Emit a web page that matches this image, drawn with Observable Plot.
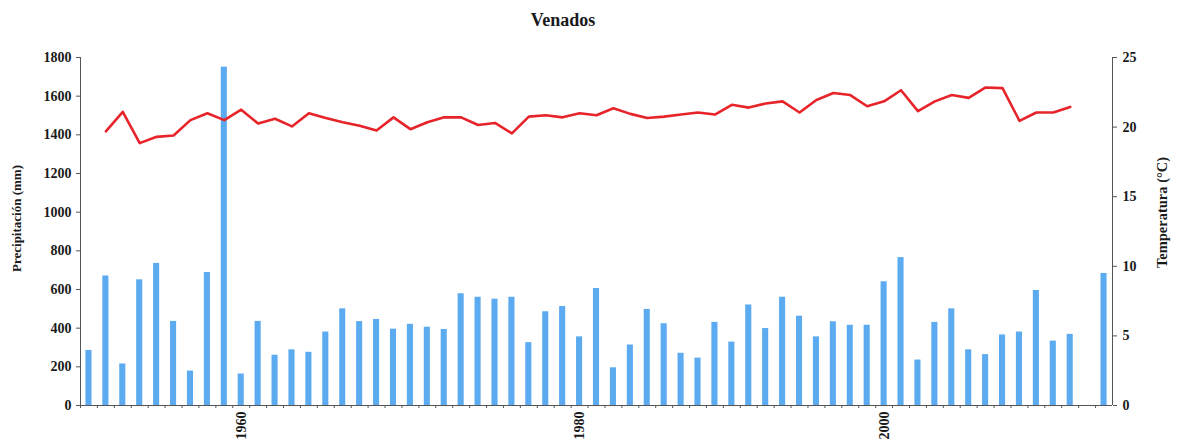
<!DOCTYPE html>
<html>
<head>
<meta charset="utf-8">
<script src="https://cdn.jsdelivr.net/npm/d3@7"></script>
<script src="https://cdn.jsdelivr.net/npm/@observablehq/plot@0.6"></script>
<style>
  body { margin: 0; background: #fff; }
  #title {
    width: 1126px; height: 36px; line-height: 40px; text-align: center;
    font-family: "Liberation Serif", "Times New Roman", serif;
    font-weight: bold; font-size: 18px; color: #1a1a1a;
  }
</style>
</head>
<body>
<div id="title">Venados</div>
<div id="chart"></div>
<script>
// Annual precipitation (mm), one value per slot along the category axis
const precipitation = [
  285, 670, 215, 650, 735, 435, 178, 688, 1750, 163,
  435, 260, 288, 275, 380, 500, 434, 445, 395, 420,
  405, 393, 578, 560, 550, 560, 325, 485, 512, 355,
  605, 195, 313, 497, 423, 270, 245, 430, 328, 520,
  398, 560, 462, 355, 433, 415, 415, 640, 765, 235,
  430, 500, 288, 263, 365, 380, 595, 333, 368, null,
  683
];

// Mean annual temperature (°C), same slots
const temperature = [
  null, 19.7, 21.1, 18.85, 19.3, 19.4, 20.5, 21.0, 20.5, 21.25,
  20.25, 20.6, 20.05, 21.0, 20.65, 20.35, 20.1, 19.75, 20.7, 19.85,
  20.35, 20.7, 20.7, 20.15, 20.3, 19.55, 20.75, 20.85, 20.7, 21.0,
  20.85, 21.35, 20.95, 20.65, 20.75, 20.9, 21.05, 20.9, 21.6, 21.4,
  21.7, 21.85, 21.05, 21.95, 22.45, 22.3, 21.5, 21.85, 22.65, 21.15,
  21.85, 22.3, 22.1, 22.85, 22.8, 20.45, 21.05, 21.05, 21.45, null,
  null
];

// Year labels on the category axis and the slots they sit under
const tickLabels = ["1960", "1980", "2000"];
const tickSlots = [9, 29, 47];

const precipTicks = [0, 200, 400, 600, 800, 1000, 1200, 1400, 1600, 1800];
const tempTicks = [0, 5, 10, 15, 20, 25];

// Temperature is drawn on the precipitation scale: 25 °C ↔ 1800 mm
const K = 1800 / 25;

const rows = precipitation.map((p, i) => ({slot: i, precip: p, temp: temperature[i]}));
const slots = rows.map(d => d.slot);

const width = 1180, height = 407;
const marginLeft = 80, marginRight = 68, marginTop = 21, marginBottom = 38;
const step = (width - marginLeft - marginRight) / slots.length;

const axisColor = "#555";
const serif = "Liberation Serif, Times New Roman, serif";

const chart = Plot.plot({
  width, height, marginLeft, marginRight, marginTop, marginBottom,
  style: {fontFamily: serif, fontSize: "14px", fontWeight: "bold", color: "#1a1a1a", background: "#fff"},
  x: {type: "band", domain: slots, paddingInner: 0.64, paddingOuter: 0.32, axis: null},
  y: {domain: [0, 1800], axis: null},
  marks: [
    Plot.barY(rows.filter(d => d.precip != null), {x: "slot", y: "precip", fill: "#5cabf1"}),
    Plot.lineY(rows, {
      x: "slot",
      y: d => d.temp == null ? NaN : d.temp * K,
      stroke: "#e8242b", strokeWidth: 2.6, strokeLinejoin: "round"
    }),
    // axis lines
    Plot.ruleY([0], {stroke: axisColor, strokeWidth: 1}),
    Plot.ruleX([slots[0]], {stroke: axisColor, strokeWidth: 1, dx: -step / 2}),
    Plot.ruleX([slots[slots.length - 1]], {stroke: axisColor, strokeWidth: 1, dx: step / 2}),
    // left axis: precipitation
    Plot.axisY(precipTicks, {
      anchor: "left", tickSize: 4, tickPadding: 5, stroke: axisColor,
      tickFormat: d => String(d), fontSize: 14, label: null
    }),
    // right axis: temperature
    Plot.axisY(tempTicks.map(t => t * K), {
      anchor: "right", tickSize: 4, tickPadding: 6, stroke: axisColor,
      tickFormat: d => String(Math.round(d / K)), fontSize: 14, label: null
    }),
    // small ticks between categories
    Plot.axisX(slots, {
      anchor: "bottom", tickSize: 3, stroke: axisColor, dx: -step / 2,
      tickFormat: () => "", label: null
    }),
    // year labels
    Plot.axisX(tickSlots, {
      anchor: "bottom", tickSize: 0, tickPadding: 6, tickRotate: -90,
      tickFormat: i => tickLabels[tickSlots.indexOf(i)], fontSize: 14, label: null
    }),
    // axis titles
    Plot.text(["Precipitación (mm)"], {
      frameAnchor: "left", textAnchor: "middle", rotate: -90, dx: -64, dy: -13,
      fontSize: 13, fontWeight: "bold", fill: "#1a1a1a"
    }),
    Plot.text(["Temperatura (°C)"], {
      frameAnchor: "right", textAnchor: "middle", rotate: -90, dx: 50, dy: -19,
      fontSize: 14.5, fontWeight: "bold", fill: "#1a1a1a"
    })
  ]
});

document.getElementById("chart").appendChild(chart);
</script>
</body>
</html>
